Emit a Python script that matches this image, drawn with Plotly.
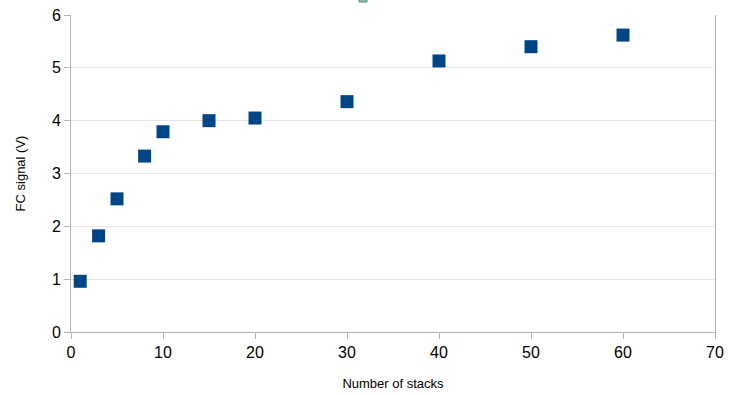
import plotly.graph_objects as go

stacks = [1, 3, 5, 8, 10, 15, 20, 30, 40, 50, 60]
fc_signal = [0.96, 1.82, 2.52, 3.33, 3.79, 4.00, 4.05, 4.36, 5.13, 5.40, 5.62]
x_ticks = [0, 10, 20, 30, 40, 50, 60, 70]
y_ticks = [0, 1, 2, 3, 4, 5, 6]

fig = go.Figure()
fig.add_trace(go.Scatter(
    x=stacks, y=fc_signal, mode="markers",
    marker=dict(symbol="square", size=13, color="#004586",
                line=dict(width=0)),
    showlegend=False,
    cliponaxis=False,
))

# partially visible legend glyph at the top
fig.add_shape(type="rect", xref="paper", yref="paper",
              x0=(359 - 71) / 644, x1=(367 - 71) / 644,
              y0=(317 + 13) / 317, y1=(317 + 18) / 317,
              fillcolor="#7fbfaf", line=dict(color="#5a8a80", width=1))

fig.update_layout(
    width=731, height=395,
    margin=dict(l=71, r=16, t=15, b=63),
    paper_bgcolor="white", plot_bgcolor="white",
    font=dict(family="Liberation Sans, Arial, sans-serif", color="#000000"),
    xaxis=dict(
        range=[0, 70], tickvals=x_ticks, ticks="outside", ticklen=6,
        tickcolor="#b3b3b3", showline=True, linecolor="#b3b3b3",
        showgrid=False, zeroline=False, automargin=False,
        tickfont=dict(size=16),
        title=dict(text="Number of stacks", font=dict(size=13), standoff=18),
    ),
    yaxis=dict(
        range=[0, 6], tickvals=y_ticks, ticks="outside", ticklen=6,
        tickcolor="#b3b3b3", showline=True, linecolor="#b3b3b3",
        mirror=True, automargin=False,
        showgrid=True, gridcolor="#e6e6e6", zeroline=False,
        tickfont=dict(size=16),
        title=dict(text="FC signal (V)", font=dict(size=13), standoff=23),
    ),
)

fig.write_html("out.html",
               config={"displayModeBar": False},
               post_script="document.body.style.margin='0';document.body.style.overflow='hidden';")
